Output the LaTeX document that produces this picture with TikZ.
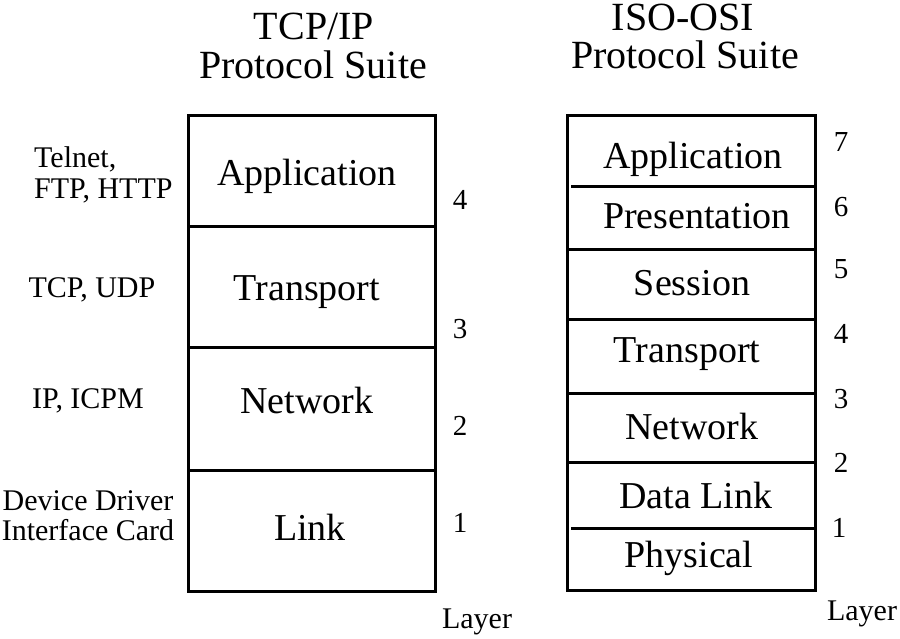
\documentclass[tikz,border=0pt]{standalone}
\usepackage{fontspec}
\setmainfont{Liberation Serif}
\tikzset{
  rule/.style={line width=3pt},
  boxtext/.style={anchor=base,inner sep=0pt,font=\fontsize{38}{44}\selectfont},
  suitetitle/.style={anchor=base,inner sep=0pt,font=\fontsize{40}{46}\selectfont},
  sidetext/.style={anchor=base,inner sep=0pt,font=\fontsize{30}{34}\selectfont},
  laynum/.style={anchor=base,inner sep=0pt,font=\fontsize{29}{32}\selectfont},
}
\begin{document}
\begin{tikzpicture}[x=1pt,y=-1pt]
    \useasboundingbox (0,0) rectangle (900,638);
    % TCP/IP stack
    \coordinate (TL) at (188,115); \coordinate (TR) at (435,591);
    \draw[rule] (TL) rectangle (TR);
    \foreach \y in {226,347,470} \draw[rule] (188,\y) -- (435,\y);
    \node[suitetitle] (tcptitle) at (314,39) {TCP/IP};
    \node[suitetitle] (tcpsuite) at (313,78) {Protocol Suite};
    \node[boxtext] (tcpapp) at (307,185) {Application};
    \node[boxtext] (tcptrans) at (307,300) {Transport};
    \node[boxtext] (tcpnet) at (307,413) {Network};
    \node[boxtext] (tcplink) at (310,540) {Link};
    \node[laynum] (tcpn4) at (460,209) {4};
    \node[laynum] (tcpn3) at (460,338) {3};
    \node[laynum] (tcpn2) at (460,435) {2};
    \node[laynum] (tcpn1) at (460,532) {1};
    \node[sidetext] (tcplayer) at (477,628) {Layer};
    % protocols on the left
    \node[sidetext,anchor=base west] (telnet) at (34,167) {Telnet,};
    \node[sidetext,anchor=base west] (ftp) at (34,198) {FTP, HTTP};
    \node[sidetext] (tcpudp) at (92,297) {TCP, UDP};
    \node[sidetext] (ipicpm) at (88,408) {IP, ICPM};
    \node[sidetext] (driver) at (88,510) {Device Driver};
    \node[sidetext] (card) at (88,540) {Interface Card};
    % ISO-OSI stack
    \coordinate (OL) at (567,115); \coordinate (OR) at (815,590);
    \draw[rule] (OL) rectangle (OR);
    \foreach \y in {249,319,393,462} \draw[rule] (567,\y) -- (815,\y);
    \draw[rule] (571,186) -- (817,186);
    \draw[rule] (571,528) -- (817,528);
    \node[suitetitle] (osititle) at (683,30) {ISO-OSI};
    \node[suitetitle] (osisuite) at (685,68) {Protocol Suite};
    \node[boxtext] (osiapp) at (693,168) {Application};
    \node[boxtext] (osipres) at (697,228) {Presentation};
    \node[boxtext] (osisess) at (692,295) {Session};
    \node[boxtext] (ositrans) at (687,362) {Transport};
    \node[boxtext] (osinet) at (692,439) {Network};
    \node[boxtext] (osidata) at (696,508) {Data Link};
    \node[boxtext] (osiphys) at (689,567) {Physical};
    \node[laynum] (osin7) at (841,151) {7};
    \node[laynum] (osin6) at (841,216) {6};
    \node[laynum] (osin5) at (841,278) {5};
    \node[laynum] (osin4) at (841,343) {4};
    \node[laynum] (osin3) at (841,408) {3};
    \node[laynum] (osin2) at (841,472) {2};
    \node[laynum] (osin1) at (839,537) {1};
    \node[sidetext] (osilayer) at (862,620) {Layer};
\end{tikzpicture}
\end{document}
